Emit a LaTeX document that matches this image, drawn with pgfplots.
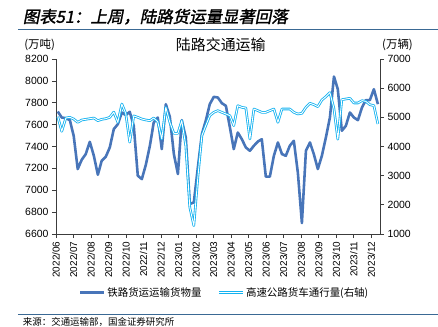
\documentclass[border=0pt]{standalone}
\usepackage{pgfplots}
\usepackage{pgfplotstable}
\pgfplotsset{compat=1.18}
\usepackage{fontspec}
\setmainfont{Liberation Sans}
\newfontfamily\cjk{Noto Sans CJK SC}
\newfontfamily\cjktitle[FakeSlant=0.2,FakeBold=1.6]{Noto Sans CJK SC}
\definecolor{rail}{RGB}{72,117,185}
\definecolor{hw}{RGB}{20,178,240}
\definecolor{rulec}{RGB}{58,105,148}
\definecolor{axc}{RGB}{60,60,60}

\pgfplotstableread{
x rail hw
0.10 7720 5023
0.33 7665 4520
0.56 7659 4977
0.79 7641 5000
1.01 7498 4943
1.24 7194 4829
1.47 7279 4909
1.70 7331 4932
1.93 7443 4954
2.16 7316 4977
2.39 7142 4886
2.61 7270 4932
2.84 7306 4954
3.07 7391 5000
3.30 7559 5180
3.53 7604 4829
3.76 7711 5457
3.98 7687 5137
4.21 7717 4150
4.44 7589 5050
4.67 7133 5000
4.90 7102 4943
5.13 7233 4909
5.36 7407 4886
5.58 7620 4977
5.81 7665 4850
6.04 7376 4258
6.27 7787 5343
6.50 7671 4829
6.73 7331 4452
6.96 7148 4452
7.18 7641 4886
7.41 7483 4029
7.64 6874 1914
7.87 6889 1286
8.10 7209 2943
8.33 7514 4372
8.55 7635 4715
8.78 7787 5058
9.01 7854 5172
9.24 7848 5229
9.47 7796 5172
9.70 7772 5115
9.93 7574 5058
10.15 7376 4715
10.38 7528 5400
10.61 7467 5343
10.84 7391 5320
11.07 7361 4258
11.30 7407 5286
11.53 7446 5229
11.75 7467 5172
11.98 7124 5172
12.21 7124 5229
12.44 7315 5286
12.67 7437 4829
12.90 7331 5286
13.12 7315 5286
13.35 7407 5286
13.58 7452 5172
13.81 7160 5115
14.04 6700 5138
14.27 7361 5343
14.50 7437 5481
14.72 7331 5435
14.95 7194 5366
15.18 7315 5595
15.41 7483 5709
15.64 7665 5850
15.87 8040 5300
16.09 7924 4250
16.32 7544 5606
16.55 7589 5629
16.78 7711 5652
17.01 7665 5492
17.24 7641 5492
17.47 7757 5572
17.69 7824 5549
17.92 7824 5435
18.15 7924 5400
18.38 7787 4772
}\data

\pgfplotsset{
  myaxis/.style={
    at={(0,0)}, anchor=south west, scale only axis,
    width=324bp, height=175bp,
    xmin=0, xmax=18.5,
    tick align=outside,
    major tick length=4bp,
    axis line style={axc, line width=0.8pt},
    tick style={axc, line width=0.7pt},
    /pgf/number format/assume math mode=true,
    /pgf/number format/1000 sep={},
    ticklabel style={font=\fontsize{10.5}{12}\selectfont, text=black},
  },
  hwstyle/.style={draw=hw, double=white, double distance=0.9pt, line width=0.85pt, line join=round},
}

\begin{document}
\begin{tikzpicture}[x=1bp,y=1bp]
\begin{axis}[myaxis,
  axis x line*=bottom, axis y line*=left,
  ymin=6600, ymax=8200, ytick={6600,6800,7000,7200,7400,7600,7800,8000,8200},
  xtick={0,1,...,18},
  xticklabels={2022/06,2022/07,2022/08,2022/09,2022/10,2022/11,2022/12,2023/01,2023/02,2023/03,2023/04,2023/05,2023/06,2023/07,2023/08,2023/09,2023/10,2023/11,2023/12},
  xticklabel style={rotate=90, anchor=east, font=\fontsize{10}{12}\selectfont},
  legend style={at={(0.52,-0.335)}, anchor=center, draw=none, fill=none,
    legend columns=2, font=\cjk\fontsize{10.5}{12}\selectfont,
    /tikz/every even column/.append style={column sep=14bp}},
  legend image code/.code={\draw[#1] (0bp,0bp) -- (24bp,0bp);},
]
\addplot[rail, line width=2.6pt, line join=round] table[x=x, y=rail] {\data};
\addlegendentry{铁路货运运输货物量}
\addlegendimage{hwstyle}
\addlegendentry{高速公路货车通行量(右轴)}
\end{axis}
\begin{axis}[myaxis,
  axis x line=none, axis y line*=right,
  ymin=1000, ymax=7000, ytick={1000,2000,3000,4000,5000,6000,7000},
]
\addplot[hwstyle] table[x=x, y=hw] {\data};
\end{axis}
% titles and annotations
\node[anchor=west, inner sep=0] at (-33.3,217.3) {\cjktitle\fontsize{16.5}{18}\selectfont 图表51：上周，陆路货运量显著回落};
\draw[rulec, line width=1.6pt] (-38,204.7) -- (382,204.7);
\node[inner sep=0] at (-16.3,189) {\cjk\fontsize{11.5}{13}\selectfont (万吨)};
\node[inner sep=0] at (164.8,189) {\cjk\fontsize{15}{17}\selectfont 陆路交通运输};
\node[inner sep=0] at (341.5,189) {\cjk\fontsize{11.5}{13}\selectfont (万辆)};
\draw[rulec, line width=1.6pt] (-38,-80.3) -- (382,-80.3);
\node[anchor=west, inner sep=0] at (-33.3,-87.7) {\cjk\fontsize{9.5}{11}\selectfont 来源：交通运输部，国金证券研究所};
\pgfresetboundingbox
\path[use as bounding box] (-56,-92) rectangle (382,234);
\end{tikzpicture}
\end{document}
